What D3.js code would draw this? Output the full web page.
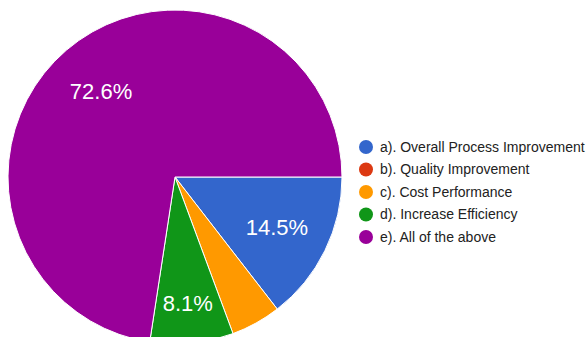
<!DOCTYPE html>
<html>
<head>
<meta charset="utf-8">
<script src="https://cdn.jsdelivr.net/npm/d3@7"></script>
<style>
  body { margin: 0; background: #fff; }
  svg { display: block; font-family: Arial, "Liberation Sans", sans-serif; }
</style>
</head>
<body>
<div id="chart"></div>
<script>
// responses per option
const categories = [
  "a). Overall Process Improvement",
  "b). Quality Improvement",
  "c). Cost Performance",
  "d). Increase Efficiency",
  "e). All of the above"
];
const counts = [9, 0, 3, 5, 45];
const colors = ["#3366cc", "#dc3912", "#ff9900", "#109618", "#990099"];

const width = 587, height = 337;
const cx = 175, cy = 177, radius = 167;

const svg = d3.select("#chart").append("svg")
  .attr("width", width)
  .attr("height", height);

const total = d3.sum(counts);
const data = categories.map((c, i) => ({ name: c, value: counts[i], color: colors[i] }));

// google style: first slice starts at 3 o'clock, going clockwise
const pie = d3.pie()
  .value(d => d.value)
  .sort(null)
  .startAngle(Math.PI / 2)
  .endAngle(Math.PI / 2 + 2 * Math.PI);

const arcs = pie(data);
const arc = d3.arc().innerRadius(0).outerRadius(radius);

const g = svg.append("g").attr("transform", `translate(${cx},${cy})`);

g.selectAll("path.slice")
  .data(arcs.filter(d => d.value > 0))
  .join("path")
  .attr("class", "slice")
  .attr("d", arc)
  .attr("fill", d => d.data.color)
  .attr("stroke", "#fff")
  .attr("stroke-width", 1);

// percent labels, only where the slice is big enough
const fmt = d => (d.value / total * 100).toFixed(1) + "%";
g.selectAll("text.pct")
  .data(arcs.filter(d => d.value / total > 0.06))
  .join("text")
  .attr("class", "pct")
  .attr("transform", d => {
    const a = (d.startAngle + d.endAngle) / 2;
    // thin slices push the label further out so it fits
    const span = d.endAngle - d.startAngle;
    const r = span < 0.6 ? radius * 0.76 : radius * 0.68;
    return `translate(${r * Math.sin(a)},${-r * Math.cos(a)})`;
  })
  .attr("text-anchor", "middle")
  .attr("dy", "0.36em")
  .attr("fill", "#fff")
  .style("font-size", "22px")
  .text(fmt);

// legend
const legend = svg.append("g").attr("transform", "translate(366,147)");
const row = legend.selectAll("g")
  .data(data)
  .join("g")
  .attr("transform", (d, i) => `translate(0,${i * 22.5})`);

row.append("circle")
  .attr("r", 7)
  .attr("fill", d => d.color);

row.append("text")
  .attr("x", 14)
  .attr("dy", "0.35em")
  .attr("fill", "#222")
  .style("font-size", "14px")
  .text(d => d.name);
</script>
</body>
</html>
